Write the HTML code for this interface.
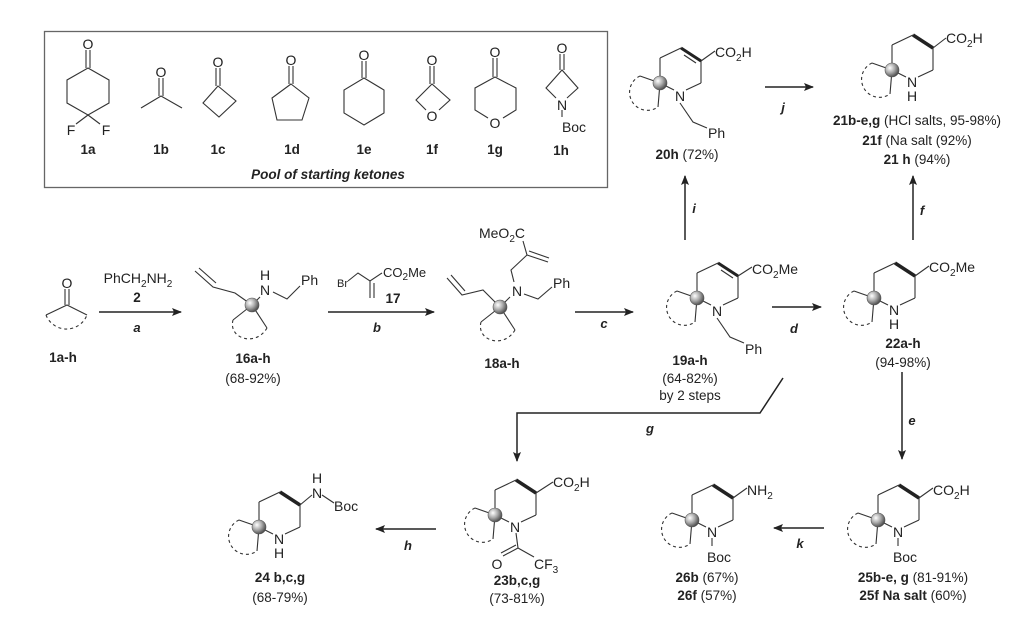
<!DOCTYPE html>
<html><head><meta charset="utf-8"><style>
html,body{margin:0;padding:0;background:#fff}
svg{display:block}
text{font-family:"Liberation Sans",Arial,sans-serif;fill:#222}
.a{font-size:14px}
.s{font-size:10px}
.l{font-size:13.5px;font-weight:bold}
.y{font-size:13.5px}
.r{font-size:13px;font-weight:bold;font-style:italic}
</style></head><body>
<svg width="1024" height="621" viewBox="0 0 1024 621" xmlns="http://www.w3.org/2000/svg">
<defs>
<radialGradient id="sg" cx="0.35" cy="0.35" r="0.7"><stop offset="0" stop-color="#fff"/><stop offset="0.5" stop-color="#aaa"/><stop offset="1" stop-color="#444"/></radialGradient>
<marker id="ah" markerWidth="10" markerHeight="8" refX="9" refY="4" orient="auto" markerUnits="userSpaceOnUse"><path d="M0,0 L10,4 L0,8 L2,4 z" fill="#222"/></marker>
<g id="spiro" fill="none" stroke="#333" stroke-width="1.1">
<line x1="-21" y1="11" x2="-41" y2="4"/><line x1="-21" y1="11" x2="-23" y2="35"/>
<path d="M-41,4 A18 18 0 1 0 -23 35" stroke-dasharray="3,3"/>
</g>
<g id="ring">
<g fill="none" stroke="#333" stroke-width="1.1">
<line x1="-21" y1="11" x2="-21" y2="-14"/><line x1="-21" y1="-14" x2="0" y2="-24"/>
<line x1="20" y1="-11" x2="20" y2="11"/><line x1="20" y1="11" x2="5" y2="18"/>
<line x1="-21" y1="11" x2="-7" y2="18"/>
</g>
<use href="#spiro"/>
<circle cx="-21" cy="11" r="7" fill="url(#sg)" stroke="#555" stroke-width="0.6"/>
</g>
<g id="pip"><use href="#ring"/><line x1="0" y1="-24" x2="20" y2="-11" stroke="#222" stroke-width="3.5"/></g>
<g id="thp"><use href="#ring"/><line x1="0" y1="-24" x2="20" y2="-11" stroke="#222" stroke-width="3"/><line x1="3" y1="-17" x2="15" y2="-9" stroke="#333" stroke-width="1.1"/></g>
<g id="cage" fill="none" stroke="#333" stroke-width="1.1">
<line x1="0" y1="0" x2="-19" y2="15"/><line x1="0" y1="0" x2="15" y2="23"/>
<path d="M-19,15 C-24,34 4,42 15,23" stroke-dasharray="3,3"/>
</g>
</defs>

<rect x="44.5" y="31.5" width="563" height="156" fill="none" stroke="#666" stroke-width="1.3"/>
<g fill="none" stroke="#333" stroke-width="1.1">
<line x1="86" y1="50" x2="86" y2="68"/><line x1="90" y1="50" x2="90" y2="68"/>
<polygon points="88,68 109,80 109,103 88,115 67,103 67,80"/>
<line x1="88" y1="115" x2="76" y2="124"/><line x1="88" y1="115" x2="100" y2="124"/>
<line x1="159" y1="78" x2="159" y2="96"/><line x1="163" y1="78" x2="163" y2="96"/>
<polyline points="141,108 161,96 182,108"/>
<line x1="216" y1="68" x2="216" y2="86"/><line x1="220" y1="68" x2="220" y2="86"/>
<polygon points="218,86 236,101 219,117 203,103"/>
<line x1="289" y1="66" x2="289" y2="84"/><line x1="293" y1="66" x2="293" y2="84"/>
<polygon points="291,84 309,98 302,120 277,120 272,98"/>
<line x1="362" y1="61" x2="362" y2="78"/><line x1="366" y1="61" x2="366" y2="78"/>
<polygon points="364,78 384,90 384,113 364,125 344,113 344,90"/>
<line x1="430" y1="66" x2="430" y2="84"/><line x1="434" y1="66" x2="434" y2="84"/>
<polyline points="426,110 416,100 432,84 450,100 439,110"/>
<line x1="493" y1="58" x2="493" y2="77"/><line x1="497" y1="58" x2="497" y2="77"/>
<polyline points="488,118 475,110 475,88 495,77 516,88 516,110 503,118"/>
<line x1="560" y1="54" x2="560" y2="70"/><line x1="564" y1="54" x2="564" y2="70"/>
<polyline points="556,98 546,88 562,70 578,88 567,98"/>
<line x1="562" y1="110" x2="562" y2="117"/>
</g>
<g class="a" text-anchor="middle">
<text x="88" y="49">O</text><text x="71" y="135" >F</text><text x="106" y="135">F</text>
<text x="161" y="77">O</text><text x="218" y="67">O</text><text x="291" y="65">O</text>
<text x="364" y="60">O</text><text x="432" y="65">O</text><text x="432" y="121">O</text>
<text x="495" y="57">O</text><text x="495" y="128">O</text>
<text x="562" y="53">O</text><text x="562" y="110">N</text><text x="574" y="132">Boc</text>
</g>
<g class="l" text-anchor="middle">
<text x="88" y="154">1a</text><text x="161" y="154">1b</text><text x="218" y="154">1c</text><text x="292" y="154">1d</text>
<text x="364" y="154">1e</text><text x="432" y="154">1f</text><text x="495" y="154">1g</text><text x="561" y="155">1h</text>
<text x="328" y="179" font-style="italic">Pool of starting ketones</text>
</g>

<g fill="none" stroke="#333" stroke-width="1.1">
<line x1="65" y1="289" x2="65" y2="305"/><line x1="69" y1="289" x2="69" y2="305"/>
<polyline points="46,315 67,305 87,315"/>
<path d="M46,315 A22 22 0 0 0 87,315" stroke-dasharray="3,3"/>
</g>
<text class="a" x="67" y="288" text-anchor="middle">O</text>
<text class="l" x="63" y="362" text-anchor="middle">1a-h</text>

<g transform="translate(252,305)"><use href="#cage"/></g>
<g fill="none" stroke="#333" stroke-width="1.1">
<polyline points="252,305 235,293 213,287 195,271"/><line x1="216" y1="283" x2="199" y2="268"/>
<line x1="252" y1="305" x2="260" y2="297"/>
<polyline points="273,292 287,299 300,286"/>
</g>
<circle cx="252" cy="305" r="7" fill="url(#sg)" stroke="#555" stroke-width="0.6"/>
<text class="a" x="265" y="295" text-anchor="middle">N</text><text class="a" x="265" y="280" text-anchor="middle">H</text>
<text class="a" x="301" y="285">Ph</text>
<text class="l" x="253" y="363" text-anchor="middle">16a-h</text><text class="y" x="253" y="383" text-anchor="middle">(68-92%)</text>

<text class="a" x="138" y="283" text-anchor="middle">PhCH<tspan class="s" dy="4">2</tspan><tspan dy="-4">NH</tspan><tspan class="s" dy="4">2</tspan></text>
<text class="l" x="137" y="302" text-anchor="middle">2</text>
<text class="r" x="137" y="332" text-anchor="middle">a</text>
<g fill="none" stroke="#333" stroke-width="1.1">
<polyline points="348,281 358,273 370,281 382,273"/><line x1="370" y1="281" x2="370" y2="298"/><line x1="374" y1="283" x2="374" y2="298"/>
</g>
<text x="337" y="287" font-size="11">Br</text>
<text x="383" y="277" font-size="13">CO<tspan class="s" dy="3">2</tspan><tspan dy="-3">Me</tspan></text>
<text class="l" x="393" y="303" text-anchor="middle">17</text>
<text class="r" x="377" y="332" text-anchor="middle">b</text>

<g transform="translate(500,307)"><use href="#cage"/></g>
<g fill="none" stroke="#333" stroke-width="1.1">
<polyline points="500,307 483,290 462,295 447,278"/><line x1="465" y1="291" x2="451" y2="275"/>
<line x1="500" y1="307" x2="510" y2="297"/>
<polyline points="514,282 511,270 527,255 523,241"/><line x1="527" y1="255" x2="548" y2="262"/><line x1="529" y1="251" x2="549" y2="258"/>
<polyline points="524,294 538,299 552,287"/>
</g>
<circle cx="500" cy="307" r="7" fill="url(#sg)" stroke="#555" stroke-width="0.6"/>
<text class="a" x="517" y="296" text-anchor="middle">N</text>
<text class="a" x="553" y="288">Ph</text>
<text class="a" x="502" y="238" text-anchor="middle">MeO<tspan class="s" dy="4">2</tspan><tspan dy="-4">C</tspan></text>
<text class="l" x="502" y="368" text-anchor="middle">18a-h</text>

<g transform="translate(718,287)"><use href="#thp"/></g>
<g fill="none" stroke="#333" stroke-width="1.1">
<line x1="738" y1="276" x2="752" y2="267"/>
<polyline points="717,318 730,337 744,343"/>
</g>
<text class="a" x="752" y="274">CO<tspan class="s" dy="4">2</tspan><tspan dy="-4">Me</tspan></text>
<text class="a" x="717" y="316" text-anchor="middle">N</text><text class="a" x="745" y="354">Ph</text>
<text class="l" x="690" y="365" text-anchor="middle">19a-h</text>
<text class="y" x="690" y="383" text-anchor="middle">(64-82%)</text>
<text class="y" x="690" y="400" text-anchor="middle">by 2 steps</text>

<g transform="translate(681,72)"><use href="#thp"/></g>
<g fill="none" stroke="#333" stroke-width="1.1">
<line x1="701" y1="61" x2="715" y2="51"/>
<polyline points="680,103 693,122 707,128"/>
</g>
<text class="a" x="715" y="57">CO<tspan class="s" dy="4">2</tspan><tspan dy="-4">H</tspan></text>
<text class="a" x="680" y="101" text-anchor="middle">N</text><text class="a" x="708" y="138">Ph</text>
<text x="687" y="159" text-anchor="middle"><tspan class="l">20h</tspan><tspan class="y"> (72%)</tspan></text>

<g transform="translate(913,59)"><use href="#pip"/></g>
<line x1="933" y1="48" x2="946" y2="38" stroke="#333" stroke-width="1.1"/>
<text class="a" x="946" y="43">CO<tspan class="s" dy="4">2</tspan><tspan dy="-4">H</tspan></text>
<text class="a" x="912" y="87" text-anchor="middle">N</text><text class="a" x="912" y="101" text-anchor="middle">H</text>
<text x="917" y="125" text-anchor="middle"><tspan class="l">21b-e,g</tspan><tspan class="y"> (HCl salts, 95-98%)</tspan></text>
<text x="917" y="145" text-anchor="middle"><tspan class="l">21f</tspan><tspan class="y"> (Na salt (92%)</tspan></text>
<text x="917" y="164" text-anchor="middle"><tspan class="l">21 h</tspan><tspan class="y"> (94%)</tspan></text>

<g transform="translate(895,287)"><use href="#pip"/></g>
<line x1="915" y1="276" x2="929" y2="266" stroke="#333" stroke-width="1.1"/>
<text class="a" x="929" y="272">CO<tspan class="s" dy="4">2</tspan><tspan dy="-4">Me</tspan></text>
<text class="a" x="894" y="315" text-anchor="middle">N</text><text class="a" x="894" y="329" text-anchor="middle">H</text>
<text class="l" x="903" y="348" text-anchor="middle">22a-h</text>
<text class="y" x="903" y="367" text-anchor="middle">(94-98%)</text>

<g transform="translate(899,509)"><use href="#pip"/></g>
<g fill="none" stroke="#333" stroke-width="1.1"><line x1="919" y1="498" x2="933" y2="488"/><line x1="898" y1="538" x2="898" y2="546"/></g>
<text class="a" x="933" y="495">CO<tspan class="s" dy="4">2</tspan><tspan dy="-4">H</tspan></text>
<text class="a" x="898" y="537" text-anchor="middle">N</text><text class="a" x="905" y="562" text-anchor="middle">Boc</text>
<text x="913" y="582" text-anchor="middle"><tspan class="l">25b-e, g</tspan><tspan class="y"> (81-91%)</tspan></text>
<text x="913" y="600" text-anchor="middle"><tspan class="l">25f Na salt</tspan><tspan class="y"> (60%)</tspan></text>

<g transform="translate(713,509)"><use href="#pip"/></g>
<g fill="none" stroke="#333" stroke-width="1.1"><line x1="733" y1="498" x2="747" y2="488"/><line x1="712" y1="538" x2="712" y2="546"/></g>
<text class="a" x="747" y="495">NH<tspan class="s" dy="4">2</tspan></text>
<text class="a" x="712" y="537" text-anchor="middle">N</text><text class="a" x="719" y="562" text-anchor="middle">Boc</text>
<text x="707" y="582" text-anchor="middle"><tspan class="l">26b</tspan><tspan class="y"> (67%)</tspan></text>
<text x="707" y="600" text-anchor="middle"><tspan class="l">26f</tspan><tspan class="y"> (57%)</tspan></text>

<g transform="translate(516,504)"><use href="#pip"/></g>
<g fill="none" stroke="#333" stroke-width="1.1">
<line x1="536" y1="493" x2="553" y2="482"/>
<line x1="516" y1="533" x2="518" y2="548"/><line x1="518" y1="548" x2="534" y2="557"/>
<line x1="518" y1="548" x2="503" y2="556"/><line x1="516" y1="545" x2="501" y2="553"/>
</g>
<text class="a" x="553" y="487">CO<tspan class="s" dy="4">2</tspan><tspan dy="-4">H</tspan></text>
<text class="a" x="515" y="532" text-anchor="middle">N</text>
<text class="a" x="497" y="569" text-anchor="middle">O</text>
<text class="a" x="534" y="569">CF<tspan class="s" dy="4">3</tspan></text>
<text class="l" x="517" y="585" text-anchor="middle">23b,c,g</text>
<text class="y" x="517" y="603" text-anchor="middle">(73-81%)</text>

<g transform="translate(280,516)"><use href="#pip"/></g>
<g fill="none" stroke="#333" stroke-width="1.1"><line x1="300" y1="505" x2="312" y2="495"/><line x1="322" y1="495" x2="334" y2="503"/></g>
<text class="a" x="279" y="544" text-anchor="middle">N</text><text class="a" x="279" y="558" text-anchor="middle">H</text>
<text class="a" x="317" y="498" text-anchor="middle">N</text><text class="a" x="317" y="483" text-anchor="middle">H</text>
<text class="a" x="334" y="511">Boc</text>
<text class="l" x="280" y="582" text-anchor="middle">24 b,c,g</text>
<text class="y" x="280" y="602" text-anchor="middle">(68-79%)</text>

<g stroke="#222" stroke-width="1.5" fill="none" marker-end="url(#ah)">
<line x1="99" y1="312" x2="181" y2="312"/>
<line x1="328" y1="312" x2="434" y2="312"/>
<line x1="575" y1="312" x2="633" y2="312"/>
<line x1="772" y1="307" x2="821" y2="307"/>
<line x1="685" y1="240" x2="685" y2="176"/>
<line x1="913" y1="240" x2="913" y2="176"/>
<line x1="765" y1="87" x2="813" y2="87"/>
<line x1="902" y1="372" x2="902" y2="459"/>
<line x1="824" y1="528" x2="774" y2="528"/>
<line x1="436" y1="529" x2="376" y2="529"/>
<polyline points="783,378 760,413 517,413 517,461"/>
</g>
<g class="r" text-anchor="middle">
<text x="604" y="328">c</text><text x="794" y="333">d</text><text x="694" y="213">i</text>
<text x="922" y="215">f</text><text x="783" y="112">j</text><text x="912" y="425">e</text>
<text x="650" y="433">g</text><text x="800" y="548">k</text><text x="408" y="550">h</text>
</g>
</svg>
</body></html>
